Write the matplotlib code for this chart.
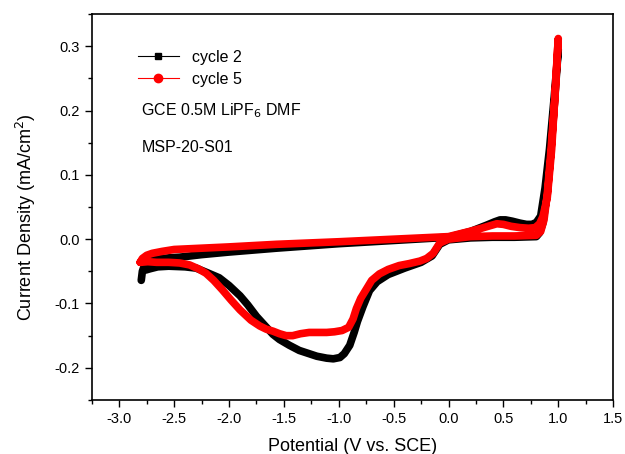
import matplotlib
matplotlib.use("Agg")
import matplotlib.pyplot as plt
from matplotlib.lines import Line2D
from matplotlib.ticker import MultipleLocator

plt.rcParams['font.family'] = ['Liberation Sans', 'DejaVu Sans']
plt.rcParams['axes.unicode_minus'] = False

# cycle 2: anodic branch (-2.8 -> 1.0) then cathodic branch (1.0 -> -2.8)
c2_x = [-2.80, -2.79, -2.77, -2.72, -2.65, -2.55, -2.45, -2.25, -2.00, -1.57, -1.00, -0.50,
        0.00, 0.20, 0.35, 0.42, 0.47, 0.52, 0.58, 0.65, 0.71, 0.76, 0.80, 0.84, 0.88, 0.92, 0.96, 1.00,
        0.96, 0.92, 0.89, 0.86, 0.83, 0.80, 0.60, 0.40, 0.20, 0.00, -0.08, -0.15, -0.25,
        -0.40, -0.55, -0.65, -0.72, -0.78, -0.83, -0.86, -0.90, -0.95, -0.99, -1.05, -1.11,
        -1.20, -1.36, -1.45, -1.54, -1.60, -1.67, -1.75, -1.83, -1.90, -2.00, -2.09, -2.20,
        -2.30, -2.40, -2.55, -2.65, -2.72, -2.76]
c2_y = [-0.064, -0.050, -0.040, -0.034, -0.031, -0.029, -0.028, -0.024, -0.020, -0.014, -0.007, -0.002,
        0.003, 0.012, 0.022, 0.027, 0.030, 0.030, 0.028, 0.025, 0.023, 0.023, 0.026, 0.036, 0.080, 0.140, 0.215, 0.295,
        0.200, 0.120, 0.060, 0.025, 0.010, 0.004, 0.003, 0.003, 0.002, -0.001, -0.008, -0.026, -0.036,
        -0.045, -0.055, -0.066, -0.080, -0.105, -0.128, -0.145, -0.165, -0.178, -0.184, -0.186, -0.185,
        -0.182, -0.173, -0.165, -0.156, -0.148, -0.135, -0.120, -0.102, -0.088, -0.072, -0.060, -0.052,
        -0.045, -0.043, -0.042, -0.043, -0.046, -0.048]

# cycle 5
c5_x = [-2.81, -2.79, -2.75, -2.70, -2.61, -2.50, -2.25, -2.00, -1.57, -1.00, -0.50,
        0.00, 0.19, 0.30, 0.38, 0.44, 0.50, 0.57, 0.65, 0.73, 0.79, 0.83, 0.86, 0.90, 0.94, 0.97, 1.00,
        0.97, 0.93, 0.90, 0.87, 0.84, 0.80, 0.60, 0.40, 0.20, 0.00, -0.08, -0.14, -0.20, -0.26,
        -0.36, -0.45, -0.55, -0.63, -0.70, -0.75, -0.80, -0.84, -0.87, -0.91, -0.97, -1.04,
        -1.11, -1.20, -1.27, -1.35, -1.42, -1.48, -1.54, -1.60, -1.66, -1.72, -1.80, -1.90,
        -1.98, -2.06, -2.14, -2.21, -2.28, -2.36, -2.45, -2.55, -2.66, -2.74, -2.81]
c5_y = [-0.036, -0.030, -0.025, -0.022, -0.019, -0.016, -0.014, -0.012, -0.008, -0.004, 0.000,
        0.004, 0.012, 0.017, 0.021, 0.024, 0.023, 0.020, 0.018, 0.017, 0.018, 0.024, 0.035, 0.065, 0.140, 0.225, 0.312,
        0.220, 0.130, 0.070, 0.030, 0.012, 0.006, 0.005, 0.005, 0.004, 0.000, -0.006, -0.022, -0.030, -0.034,
        -0.038, -0.041, -0.047, -0.054, -0.064, -0.078, -0.092, -0.108, -0.124, -0.137, -0.142, -0.144,
        -0.145, -0.145, -0.145, -0.147, -0.150, -0.150, -0.147, -0.143, -0.140, -0.135, -0.126, -0.110,
        -0.095, -0.079, -0.064, -0.053, -0.046, -0.040, -0.037, -0.036, -0.036, -0.035, -0.036]

fig = plt.figure(figsize=(6.25, 4.54), dpi=100)
ax = fig.add_axes([0.147, 0.119, 0.834, 0.850])

ax.plot(c2_x, c2_y, color='black', lw=5.5, solid_capstyle='round', solid_joinstyle='round')
ax.plot(c5_x, c5_y, color='#ff0000', lw=5.5, solid_capstyle='round', solid_joinstyle='round')

ax.set_xlim(-3.25, 1.5)
ax.set_ylim(-0.25, 0.35)
ax.set_xticks([-3.0, -2.5, -2.0, -1.5, -1.0, -0.5, 0.0, 0.5, 1.0, 1.5])
ax.set_yticks([-0.2, -0.1, 0.0, 0.1, 0.2, 0.3])
ax.xaxis.set_minor_locator(MultipleLocator(0.25))
ax.yaxis.set_minor_locator(MultipleLocator(0.05))
ax.tick_params(which='both', direction='out', top=False, right=False, labelsize=10.5)
ax.tick_params(which='major', length=5, width=1)
ax.tick_params(which='minor', length=3, width=1)
for s in ax.spines.values():
    s.set_linewidth(1.2)

ax.set_xlabel('Potential (V vs. SCE)', fontsize=13, labelpad=8.5)
ax.set_ylabel('Current Density (mA/cm$^2$)', fontsize=13, labelpad=12, y=0.474)

handles = [Line2D([], [], color='black', lw=0.8, marker='s', ms=5),
           Line2D([], [], color='#ff0000', lw=0.8, marker='o', ms=6)]
ax.legend(handles, ['cycle 2', 'cycle 5'], loc='upper left', frameon=False,
          fontsize=11.5, handlelength=2.6, labelspacing=0.45,
          bbox_to_anchor=(0.06, 0.945))

ax.text(0.095, 0.751, 'GCE 0.5M LiPF$_6$ DMF', transform=ax.transAxes, fontsize=11.5, va='center')
ax.text(0.095, 0.655, 'MSP-20-S01', transform=ax.transAxes, fontsize=11.5, va='center')

fig.savefig('out.png', dpi=100)
